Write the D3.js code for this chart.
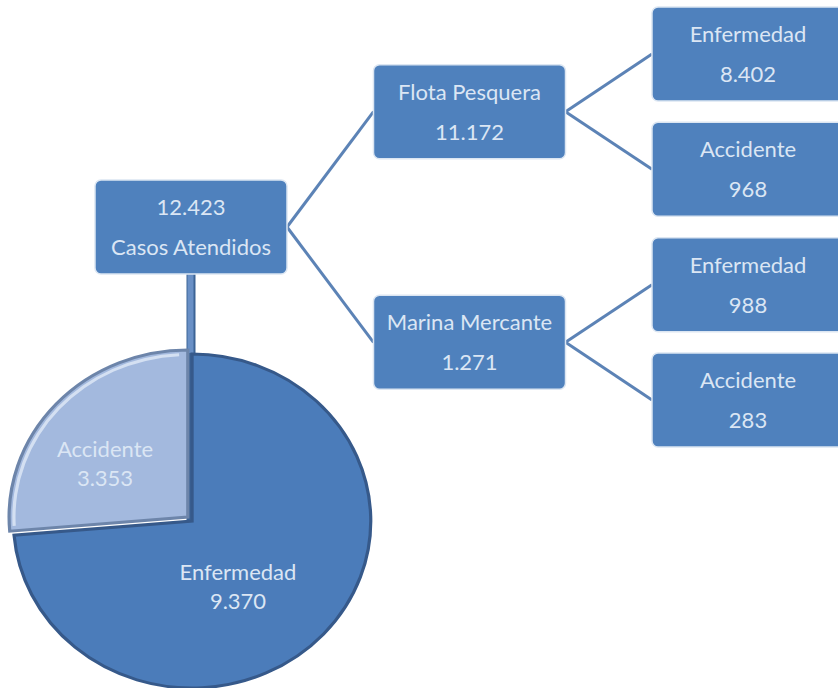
<!DOCTYPE html>
<html>
<head>
<meta charset="utf-8">
<script src="https://cdn.jsdelivr.net/npm/d3@7"></script>
<style>
  body { margin: 0; background: #fff; }
  svg text { font-family: Lato, "Open Sans", sans-serif; fill: #dbe6f4; }
</style>
</head>
<body>
<svg id="chart" width="838" height="688"></svg>
<script>
// Data
const rootLabel = "Casos Atendidos";
const rootValue = 12423;
const branchNames = ["Flota Pesquera", "Marina Mercante"];
const branchValues = [11172, 1271];
const leafNames = ["Enfermedad", "Accidente"];
const leafValues = [[8402, 968], [988, 283]];
const pieNames = ["Accidente", "Enfermedad"];
const pieValues = [3353, 9370];

document.addEventListener("DOMContentLoaded", () => {
  const svg = d3.select("#chart");
  //number format with "." as thousands separator
  const fmt = d3.formatLocale({ decimal: ",", thousands: ".", grouping: [3], currency: ["", ""] }).format(",d");

  //Building the hierarchy
  const treeData = {
    name: rootLabel,
    value: rootValue,
    root: true,
    children: branchNames.map((b, i) => ({
      name: b,
      value: branchValues[i],
      children: leafNames.map((l, j) => ({ name: l, value: leafValues[i][j] })),
    })),
  };
  const root = d3.hierarchy(treeData);
  d3.tree().size([1, 1]).separation(() => 1)(root);

  //Scales for depth (x) and breadth (y)
  const xScale = d3.scaleLinear().domain([0, 2]).range([191, 748]);
  const yScale = d3.scaleLinear().domain(d3.extent(root.leaves(), (d) => d.x)).range([54, 400]);
  const boxW = 192, boxH = 94;

  //Links
  svg.append("g")
    .selectAll("line")
    .data(root.links())
    .enter()
    .append("line")
    .attr("x1", (d) => xScale(d.source.depth) + boxW / 2)
    .attr("y1", (d) => yScale(d.source.x))
    .attr("x2", (d) => xScale(d.target.depth) - boxW / 2)
    .attr("y2", (d) => yScale(d.target.x))
    .attr("stroke", "#5c83b6")
    .attr("stroke-width", 3);

  //Pie
  const cx = xScale(0), cy = 520, r = 167;
  //trunk from root box down to the pie
  svg.append("line")
    .attr("x1", cx).attr("x2", cx)
    .attr("y1", yScale(root.x) + boxH / 2).attr("y2", cy)
    .attr("stroke", "#3c6496").attr("stroke-width", 9);
  svg.append("line")
    .attr("x1", cx - 0.5).attr("x2", cx - 0.5)
    .attr("y1", yScale(root.x) + boxH / 2).attr("y2", cy - r)
    .attr("stroke", "#6990c6").attr("stroke-width", 6);

  const total = d3.sum(pieValues);
  const accAngle = (pieValues[0] / total) * 2 * Math.PI;
  const pie = d3.pie().sort(null).startAngle(-accAngle).endAngle(2 * Math.PI - accAngle);
  const arcs = pie(pieValues);
  const arc = d3.arc().innerRadius(0).outerRadius(r);
  const pieColors = ["#a3b9de", "#4b7cba"];
  const pieStroke = ["#6d85aa", "#36598a"];
  const offsets = [[-3, -3], [1, 1]];

  const pieG = svg.append("g").attr("transform", `translate(${cx},${cy}) scale(1.07,1)`);
  pieG.selectAll("path")
    .data(arcs)
    .enter()
    .append("path")
    .attr("transform", (d, i) => `translate(${offsets[i][0]},${offsets[i][1]})`)
    .attr("d", arc)
    .attr("fill", (d, i) => pieColors[i])
    .attr("stroke", (d, i) => pieStroke[i])
    .attr("stroke-width", 3);
  //light rim on the outer edge of the small slice
  const rim = d3.arc().innerRadius(r - 6).outerRadius(r - 3);
  pieG.append("path")
    .attr("transform", `translate(${offsets[0][0]},${offsets[0][1]})`)
    .attr("d", rim({ startAngle: arcs[0].startAngle + 0.03, endAngle: arcs[0].endAngle - 0.05 }))
    .attr("fill", "#d4e0f2");

  //Pie labels
  const labelPos = [[105, 457], [238, 580]];
  arcs.forEach((a, i) => {
    const t = svg.append("text")
      .attr("x", labelPos[i][0])
      .attr("y", labelPos[i][1])
      .attr("text-anchor", "middle")
      .style("font-size", "22px");
    t.append("tspan").attr("x", labelPos[i][0]).text(pieNames[i]);
    t.append("tspan").attr("x", labelPos[i][0]).attr("dy", 29).text(fmt(pieValues[i]));
  });

  //Boxes
  const nodes = svg.append("g")
    .selectAll("g")
    .data(root.descendants())
    .enter()
    .append("g")
    .attr("transform", (d) => `translate(${xScale(d.depth)},${yScale(d.x)})`);

  nodes.append("rect")
    .attr("x", -boxW / 2)
    .attr("y", -boxH / 2)
    .attr("width", boxW)
    .attr("height", boxH)
    .attr("rx", 6)
    .attr("fill", "#4f81bd")
    .attr("stroke", "#dce6f2")
    .attr("stroke-width", 1.5);

  nodes.append("text")
    .attr("text-anchor", "middle")
    .attr("y", -12)
    .style("font-size", "22px")
    .text((d) => (d.data.root ? fmt(d.data.value) : d.data.name));
  nodes.append("text")
    .attr("text-anchor", "middle")
    .attr("y", 28)
    .style("font-size", "22px")
    .text((d) => (d.data.root ? d.data.name : fmt(d.data.value)));
});
</script>
</body>
</html>
